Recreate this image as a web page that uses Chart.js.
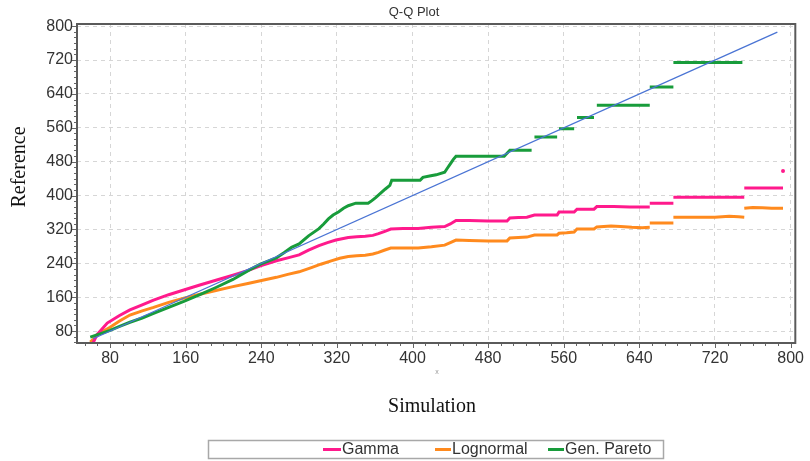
<!DOCTYPE html>
<html><head><meta charset="utf-8">
<script src="https://cdn.jsdelivr.net/npm/chart.js@4"></script>
<style>html,body{margin:0;padding:0;background:#fff}#wrap{width:810px;height:461px;position:relative}canvas{display:block}</style>
</head><body><div id="wrap"><canvas id="c" width="810" height="461"></canvas></div>
<script>
// ---- data ----
const chartTitle = 'Q-Q Plot';
const xTitle = 'Simulation';
const yTitle = 'Reference';
const xTicks = [80,160,240,320,400,480,560,640,720,800];
const yTicks = [80,160,240,320,400,480,560,640,720,800];
const seriesNames = ['Gamma','Lognormal','Gen. Pareto'];

const gammaX = [62,66,77,90,101,114,126,142,158,175,192,210,227,239,256,268,280,290,301,310,319,332,341,350,358,364,370,377,390,406,420,434,440,446,460,480,500,503,512,521,529,540,553,555,563,571,574,583,592,595,605,613,630,651,null,651,676,null,676,751,null,751,792,null,792];
const gammaY = [52,71,99,117,130,142,153,166,177,189,200,212,224,234,246,253,260,271,282,289,295,301,303,304,306,310,315,321,322,322,325,327,333,341,341,340,340,347,348,349,354,354,354,361,361,361,368,368,368,374,374,374,373,373,null,382,382,null,396,396,null,418,418,null,458];

const lognX = [59,69,80,90,101,114,126,142,158,175,192,210,227,239,256,268,280,293,303,314,323,332,341,350,358,364,370,377,390,406,420,434,440,446,460,480,500,503,512,521,529,540,553,555,563,571,574,583,592,595,610,620,632,643,651,null,651,676,null,676,720,735,745,751,null,751,760,770,780,792];
const lognY = [54,75,89,104,118,128,136,148,158,167,176,185,193,199,207,214,220,230,238,246,252,256,258,259,262,266,271,276,276,276,279,283,289,295,294,293,293,300,301,302,307,307,307,311,312,314,321,321,321,326,328,327,325,324,325,null,335,335,null,349,349,351,350,349,null,370,372,371,370,370];

const paretoX = [59,70,80,90,101,114,126,142,158,175,192,210,227,239,256,264,272,280,290,301,306,311,316,322,327,332,340,347,353,357,361,366,371,376,378,392,408,411,418,425,434,437,440,443,446,470,497,500,503,518,526,null,529,553,null,555,571,null,574,592,null,595,651,null,651,676,null,676,749];
const paretoY = [66,74,82,91,101,111,122,136,150,166,183,202,224,238,253,265,278,286,305,322,333,345,354,362,370,376,382,382,382,388,395,405,415,424,436,436,436,443,446,449,455,465,475,485,493,493,493,500,507,507,507,null,538,538,null,558,558,null,584,584,null,613,613,null,656,656,null,714,714];

const refX = [62,786];
const refY = [62,786];

// ---- build ----
const toPts = (xs, ys) => xs.map((x, i) => ({x: x, y: ys[i]}));
const colors = {gamma:'#ff1a8c', logn:'#ff8a1e', pareto:'#189c3b', ref:'#4a74d4'};
const isoRadius = (ctx) => {
  const d = ctx.dataset.data, i = ctx.dataIndex;
  if (!d[i] || d[i].y === null) return 0;
  const p = d[i-1], n = d[i+1];
  return ((!p || p.y === null) && (!n || n.y === null)) ? 2 : 0;
};
const mk = (label, xs, ys, color, w, order) => ({
  label, data: toPts(xs, ys), showLine: true, spanGaps: false,
  borderColor: color, backgroundColor: color, borderWidth: w,
  pointRadius: isoRadius, pointHoverRadius: 0, pointBorderWidth: 0, order, tension: 0
});

const FS = '"Liberation Sans", Arial, sans-serif';
const FSERIF = '"Liberation Serif", "Times New Roman", serif';

const decor = {
  id: 'decor',
  afterDraw(chart) {
    const {ctx, chartArea: a, scales} = chart;
    const xs = scales.x, ys = scales.y;
    ctx.save();
    // frame
    ctx.strokeStyle = '#5a5a5a'; ctx.lineWidth = 2; ctx.setLineDash([]);
    ctx.strokeRect(a.left, a.top, a.right - a.left, a.bottom - a.top);
    // tick marks
    ctx.strokeStyle = '#666'; ctx.lineWidth = 1;
    const step = 80/6;
    for (let v = 80 - 3*step; v <= xs.max; v += step) {
      if (v < xs.min) continue;
      const px = Math.round(xs.getPixelForValue(v)) + 0.5;
      const major = Math.abs((v/80) - Math.round(v/80)) < 1e-6;
      ctx.beginPath(); ctx.moveTo(px, a.bottom + 1); ctx.lineTo(px, a.bottom + (major ? 5 : 3)); ctx.stroke();
    }
    for (let v = 80 - 3*step; v <= ys.max; v += step) {
      if (v < ys.min) continue;
      const py = Math.round(ys.getPixelForValue(v)) + 0.5;
      const major = Math.abs((v/80) - Math.round(v/80)) < 1e-6;
      ctx.beginPath(); ctx.moveTo(a.left - 1, py); ctx.lineTo(a.left - (major ? 5 : 3), py); ctx.stroke();
    }
    // title
    ctx.fillStyle = '#333';
    ctx.font = '13px ' + FS; ctx.textAlign = 'center'; ctx.textBaseline = 'middle';
    ctx.fillText(chartTitle, 414, 12);
    // axis titles
    ctx.fillStyle = '#111';
    ctx.font = '20px ' + FSERIF;
    ctx.fillText(xTitle, 432, 407);
    ctx.save(); ctx.translate(20, 167); ctx.rotate(-Math.PI/2); ctx.fillText(yTitle, 0, 0); ctx.restore();
    // small axis mark
    ctx.fillStyle = '#999'; ctx.font = '7px ' + FS;
    ctx.fillText('x', 437, 372);
    // legend
    ctx.strokeStyle = '#a8a8a8'; ctx.lineWidth = 1.5;
    ctx.strokeRect(208.5, 440.5, 455, 18);
    const items = [[323, 342], [435, 452], [548, 565]];
    const dsFor = ['Gamma','Lognormal','Gen. Pareto'];
    ctx.font = '16px ' + FS; ctx.textAlign = 'left'; ctx.textBaseline = 'middle';
    items.forEach((it, k) => {
      const ds = chart.data.datasets.find(d => d.label === seriesNames[k]);
      ctx.strokeStyle = ds.borderColor; ctx.lineWidth = 3;
      ctx.beginPath(); ctx.moveTo(it[0], 449.5); ctx.lineTo(it[1] - 1, 449.5); ctx.stroke();
      ctx.fillStyle = '#333';
      ctx.fillText(ds.label, it[1], 450);
    });
    ctx.restore();
  }
};

new Chart(document.getElementById('c'), {
  type: 'scatter',
  data: {
    datasets: [
      mk('Reference line', refX, refY, colors.ref, 1.3, 0),
      mk('Gen. Pareto', paretoX, paretoY, colors.pareto, 3, 1),
      mk('Gamma', gammaX, gammaY, colors.gamma, 3, 2),
      mk('Lognormal', lognX, lognY, colors.logn, 3, 3)
    ]
  },
  options: {
    responsive: false, animation: false, devicePixelRatio: 1,
    layout: {padding: {left: 0, top: 24, right: 10, bottom: 0}},
    plugins: {legend: {display: false}, tooltip: {enabled: false}, title: {display: false}},
    scales: {
      x: {
        type: 'linear', min: 45, max: 805,
        afterBuildTicks: (s) => { s.ticks = xTicks.map(v => ({value: v})); },
        afterFit: (s) => { s.height = 118; },
        grid: {color: '#d6d6d6', lineWidth: 1, drawTicks: false},
        border: {display: false, dash: [4, 4]},
        ticks: {color: '#333', font: {family: FS, size: 16}, padding: 6, maxRotation: 0, autoSkip: false}
      },
      y: {
        type: 'linear', min: 52, max: 805,
        afterBuildTicks: (s) => { s.ticks = yTicks.map(v => ({value: v})); },
        afterFit: (s) => { s.width = 77; },
        grid: {color: '#d6d6d6', lineWidth: 1, drawTicks: false},
        border: {display: false, dash: [4, 4]},
        ticks: {color: '#333', font: {family: FS, size: 16}, padding: 4, autoSkip: false}
      }
    }
  },
  plugins: [decor]
});
</script>
</body></html>
